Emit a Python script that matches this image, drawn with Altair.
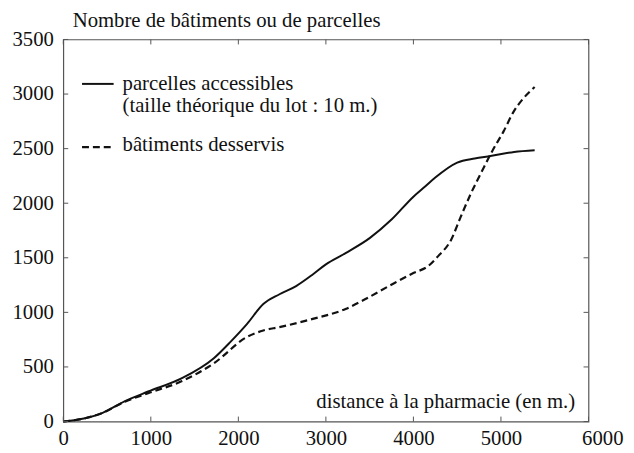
import altair as alt
import pandas as pd

# Data
x_parcelles = [0, 250, 450, 700, 970, 1350, 1720, 1910, 2100, 2285, 2470, 2660, 2850, 3000,
               3225, 3500, 3750, 4000, 4130, 4250, 4500, 4700, 4880, 5150, 5385]
y_parcelles = [0, 30, 80, 185, 275, 395, 580, 730, 895, 1076, 1166, 1241, 1347, 1440,
               1543, 1680, 1850, 2060, 2150, 2235, 2372, 2410, 2432, 2470, 2486]

x_batiments = [0, 250, 450, 700, 970, 1350, 1720, 2100, 2285, 2470, 2850, 3225, 3415, 3790,
               4000, 4165, 4280, 4430, 4540, 4655, 4785, 4900, 5030, 5145, 5255, 5385]
y_batiments = [0, 30, 80, 180, 260, 368, 533, 775, 834, 865, 940, 1031, 1106, 1272,
               1360, 1422, 1513, 1664, 1875, 2086, 2297, 2477, 2658, 2839, 2959, 3065]

x_ticks = [0, 1000, 2000, 3000, 4000, 5000, 6000]
y_ticks = [0, 500, 1000, 1500, 2000, 2500, 3000, 3500]

series_names = ["parcelles accessibles", "bâtiments desservis"]
legend_lines = ["parcelles accessibles", "(taille théorique du lot : 10 m.)", "bâtiments desservis"]
x_title = "distance à la pharmacie (en m.)"
y_title = "Nombre de bâtiments ou de parcelles"

W, H = 532, 387
FONT = "Liberation Serif"
FS = 21
INK = "#111111"
FRAME = "#555555"

df_p = pd.DataFrame({"x": x_parcelles, "y": y_parcelles})
df_b = pd.DataFrame({"x": x_batiments, "y": y_batiments})
df_xt = pd.DataFrame({"v": x_ticks})
df_yt = pd.DataFrame({"v": y_ticks})

xscale = alt.Scale(domain=[0, 6000], nice=False)
yscale = alt.Scale(domain=[0, 3500], nice=False)

xaxis = alt.Axis(
    values=x_ticks, format="d", title=x_title, ticks=False, tickSize=0, domain=False, grid=False,
    labelFont=FONT, labelFontSize=FS, labelColor=INK, labelPadding=6, labelFlush=False,
    labelAlign="center", labelBound=False,
    labelOffset={"condition": {"test": "datum.value == 6000", "value": 14}, "value": 0},
    titleFont=FONT, titleFontSize=FS, titleFontWeight="normal", titleColor=INK,
    titleAlign="right", titleAnchor="end", titleBaseline="alphabetic", titleX=518, titleY=-14,
)
yaxis = alt.Axis(
    values=y_ticks, format="d", title=y_title, ticks=False, tickSize=0, domain=False, grid=False,
    labelFont=FONT, labelFontSize=FS, labelColor=INK, labelPadding=10,
    titleFont=FONT, titleFontSize=FS, titleFontWeight="normal", titleColor=INK,
    titleAngle=0, titleAlign="left", titleBaseline="alphabetic", titleX=9, titleY=-13,
)

solid = alt.Chart(df_p).mark_line(color=INK, strokeWidth=2, interpolate="monotone").encode(
    x=alt.X("x:Q", scale=xscale, axis=xaxis),
    y=alt.Y("y:Q", scale=yscale, axis=yaxis),
)
dashed = alt.Chart(df_b).mark_line(color=INK, strokeWidth=2.2, strokeDash=[7, 4],
                                   interpolate="monotone").encode(
    x=alt.X("x:Q", scale=xscale),
    y=alt.Y("y:Q", scale=yscale),
)

tick_color = FRAME
bottom_ticks = alt.Chart(df_xt).mark_rule(color=tick_color).encode(
    x=alt.X("v:Q", scale=xscale), y=alt.value(H), y2=alt.value(H - 5))
top_ticks = alt.Chart(df_xt).mark_rule(color=tick_color).encode(
    x=alt.X("v:Q", scale=xscale), y=alt.value(0), y2=alt.value(5))
left_ticks = alt.Chart(df_yt).mark_rule(color=tick_color).encode(
    y=alt.Y("v:Q", scale=yscale), x=alt.value(0), x2=alt.value(5))
right_ticks = alt.Chart(df_yt).mark_rule(color=tick_color).encode(
    y=alt.Y("v:Q", scale=yscale), x=alt.value(W), x2=alt.value(W - 5))

# Legend (manual)
leg_solid = alt.Chart(pd.DataFrame({"s": [series_names[0]]})).mark_rule(
    color=INK, strokeWidth=2).encode(x=alt.value(19), x2=alt.value(51), y=alt.value(45))
leg_dash = alt.Chart(pd.DataFrame({"s": [series_names[1]]})).mark_rule(
    color=INK, strokeWidth=2.2, strokeDash=[7, 4]).encode(x=alt.value(19), x2=alt.value(51), y=alt.value(109))

def leg_text(txt, ypix):
    return alt.Chart(pd.DataFrame({"t": [txt]})).mark_text(
        font=FONT, fontSize=FS, color=INK, align="left", baseline="alphabetic"
    ).encode(text="t:N", x=alt.value(60), y=alt.value(ypix))

t1 = leg_text(legend_lines[0], 51)
t2 = leg_text(legend_lines[1], 73)
t3 = leg_text(legend_lines[2], 113)

chart = alt.layer(
    solid, dashed, bottom_ticks, top_ticks, left_ticks, right_ticks,
    leg_solid, leg_dash, t1, t2, t3,
).properties(
    width=W, height=H,
    autosize=alt.AutoSizeParams(type="none"),
    padding={"left": 56, "top": 29, "right": 38, "bottom": 29},
    background="white",
).configure_view(stroke=FRAME, strokeWidth=1.2)

chart.save("out.html", embed_options={"renderer": "svg", "actions": False})
